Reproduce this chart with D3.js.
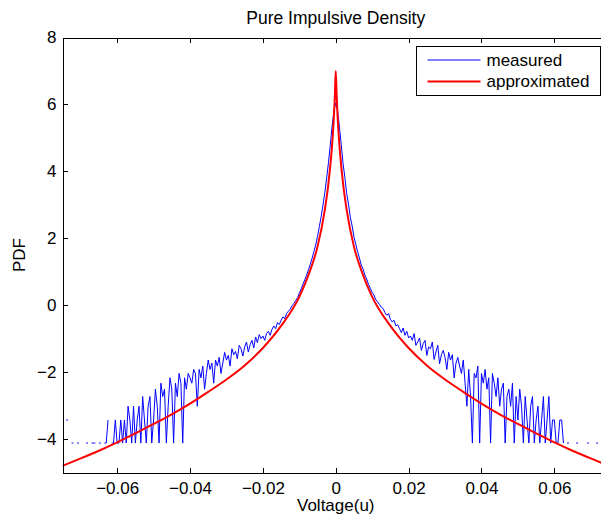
<!DOCTYPE html>
<html>
<head>
<meta charset="utf-8">
<script src="https://cdn.jsdelivr.net/npm/d3@7"></script>
<style>
	body { margin: 0; background: #fff; }
	svg { display: block; font-family: "Liberation Sans", Arial, Helvetica, sans-serif; }
	.axis text { font-size: 17px; fill: #000; font-family: "Liberation Sans", Arial, sans-serif; }
	.axis path, .axis line { stroke: #000; shape-rendering: crispEdges; }
</style>
</head>
<body>
<svg id="chart"></svg>
<script>
const width = 601;
const height = 525;

// histogram bins of the measured voltage (log pdf, null = empty bin)
const binStart = -0.075;
const binWidth = 0.0005;
const measuredPdf = [
	-3.43, null, -3.43, -3.43, null, -4.12, -4.12, null, -4.12, -4.12,
	null, -4.12, null, -4.12, -4.12, null, -4.12, -4.12, -4.12, null,
	-4.12, -4.12, null, -4.12, -4.12, -3.43, null, -4.12, -4.12, -3.43,
	-4.12, -4.12, -3.43, -4.12, -3.43, -4.12, -3.02, -3.43, -4.12, -3.02,
	-4.12, -3.43, -3.02, -4.12, -2.73, -3.43, -4.12, -3.02, -2.73, -4.12,
	-3.43, -2.51, -3.02, -4.12, -2.33, -2.73, -2.51, -4.12, -3.02, -2.17,
	-2.51, -4.12, -2.33, -2.73, -2.04, -2.33, -4.12, -2.17, -2.51, -2.04,
	-2.17, -2.33, -1.92, -2.04, -3.02, -1.92, -2.17, -1.82, -2.51, -2.04,
	-1.64, -1.92, -1.73, -2.33, -1.64, -1.82, -1.56, -2.04, -1.73, -1.41,
	-1.64, -1.5, -1.82, -1.3, -1.48, -1.38, -1.6, -1.2, -1.3, -1.52,
	-1.25, -1.1, -1.4, -1.18, -1.05, -1.28, -0.95, -1.12, -0.88, -1.0,
	-0.92, -1.05, -0.85, -0.78, -0.9, -0.72, -0.62, -0.7, -0.52, -0.58,
	-0.45, -0.35, -0.4, -0.25, -0.18, -0.12, -0.02, 0.05, 0.14, 0.22,
	0.36, 0.48, 0.63, 0.76, 0.9, 1.06, 1.22, 1.4, 1.6, 1.8,
	2.06, 2.35, 2.65, 2.99, 3.36, 3.8, 4.26, 4.79, 5.35, 5.8,
	6.05,
	5.82, 5.33, 4.81, 4.24, 3.82, 3.34, 3.02, 2.63, 2.37, 2.04,
	1.82, 1.6, 1.41, 1.2, 1.08, 0.9, 0.78, 0.62, 0.5, 0.38,
	0.3, 0.16, 0.1, 0.02, -0.06, -0.1, -0.22, -0.3, -0.25, -0.42,
	-0.5, -0.45, -0.62, -0.58, -0.7, -0.82, -0.68, -0.9, -0.78, -0.98,
	-0.92, -1.05, -0.85, -1.2, -1.1, -0.98, -1.35, -1.15, -1.05, -1.5,
	-1.25, -1.3, -1.1, -1.62, -1.4, -1.2, -1.75, -1.48, -1.35, -1.56,
	-1.92, -1.41, -1.64, -1.48, -2.17, -1.73, -1.56, -1.82, -2.04, -1.64,
	-2.33, -3.02, -1.92, -2.73, -4.12, -2.04, -2.17, -1.82, -4.12, -2.04,
	-2.33, -1.92, -2.51, -2.17, -4.12, -2.04, -2.33, -2.73, -2.17, -3.02,
	-2.51, -2.33, -4.12, -2.73, -2.51, -3.02, -2.33, -4.12, -2.73, -3.43,
	-2.51, -3.02, -4.12, -2.73, -3.43, -4.12, -3.02, -2.73, -4.12, -3.43,
	-3.02, -4.12, -3.43, -2.73, -4.12, -3.43, -2.73, -4.12, -3.43, -3.43,
	-4.12, -4.12, -3.43, -3.43, -4.12, null, -4.12, -4.12, null, -4.12,
	null, -4.12, -4.12, null, -4.12, null, null, -4.12, -4.12, null,
	-4.12, null, -4.12, -4.12, null, null, -4.12, -4.12, null, -4.12
];

// approximated density
const approxVoltage = [-0.075, -0.07, -0.065, -0.06, -0.055, -0.05, -0.045, -0.04, -0.035, -0.03,
	-0.025, -0.02, -0.015, -0.01, -0.0075, -0.005, -0.003, -0.002, -0.001, -0.0005, -0.00025,
	0,
	0.00025, 0.0005, 0.001, 0.002, 0.003, 0.005, 0.0075, 0.01, 0.015, 0.02,
	0.025, 0.03, 0.035, 0.04, 0.045, 0.05, 0.055, 0.06, 0.065, 0.07, 0.075];
const approxPdf = [-4.8, -4.58, -4.35, -4.1, -3.83, -3.55, -3.26, -2.94, -2.59, -2.22,
	-1.8, -1.28, -0.62, 0.25, 0.9, 1.75, 2.85, 3.65, 4.8, 5.65, 6.25,
	7.0,
	6.25, 5.65, 4.8, 3.65, 2.85, 1.75, 0.9, 0.25, -0.62, -1.28,
	-1.8, -2.22, -2.59, -2.94, -3.26, -3.55, -3.83, -4.1, -4.35, -4.58, -4.8];

const xTicks = [-0.06, -0.04, -0.02, 0, 0.02, 0.04, 0.06];
const xTickLabels = ["\u22120.06", "\u22120.04", "\u22120.02", "0", "0.02", "0.04", "0.06"];
const yTicks = [-4, -2, 0, 2, 4, 6, 8];
const yTickLabels = ["\u22124", "\u22122", "0", "2", "4", "6", "8"];
const seriesNames = ["measured", "approximated"];
const seriesColors = ["#0000ff", "#ff0000"];

const plot = { left: 62.5, right: 609, top: 37.5, bottom: 472.5 };

const x = d3.scaleLinear().domain([-0.075, 0.075]).range([plot.left, plot.right]);
const y = d3.scaleLinear().domain([-5, 8]).range([plot.bottom, plot.top]);

const svg = d3.select("#chart")
	.attr("width", width)
	.attr("height", height)
	.attr("viewBox", `0 0 ${width} ${height}`);

svg.append("rect").attr("width", width).attr("height", height).attr("fill", "#fff");

svg.append("clipPath")
	.attr("id", "plot-clip")
	.append("rect")
	.attr("x", plot.left)
	.attr("y", plot.top)
	.attr("width", plot.right - plot.left)
	.attr("height", plot.bottom - plot.top);

const measured = measuredPdf.map((v, i) => ({ x: binStart + i * binWidth, y: v }));
const approx = approxVoltage.map((v, i) => ({ x: v, y: approxPdf[i] }));

const dataGroup = svg.append("g").attr("clip-path", "url(#plot-clip)");

dataGroup.append("path")
	.datum(measured)
	.attr("fill", "none")
	.attr("stroke", seriesColors[0])
	.attr("stroke-width", 1)
	.attr("d", d3.line()
		.defined((d) => d.y !== null)
		.x((d) => x(d.x))
		.y((d) => y(d.y)));

dataGroup.append("path")
	.datum(approx)
	.attr("fill", "none")
	.attr("stroke", seriesColors[1])
	.attr("stroke-width", 2)
	.attr("stroke-linejoin", "round")
	.attr("d", d3.line()
		.curve(d3.curveMonotoneX)
		.x((d) => x(d.x))
		.y((d) => y(d.y)));

// axes, MATLAB style with inward ticks
svg.append("g")
	.attr("class", "axis")
	.attr("transform", `translate(0,${plot.bottom})`)
	.call(d3.axisBottom(x)
		.tickValues(xTicks)
		.tickFormat((d, i) => xTickLabels[i])
		.tickSizeInner(-5)
		.tickSizeOuter(0)
		.tickPadding(9));

svg.append("g")
	.attr("class", "axis")
	.attr("transform", `translate(0,${plot.top})`)
	.call(d3.axisTop(x)
		.tickValues(xTicks)
		.tickFormat("")
		.tickSizeInner(-5)
		.tickSizeOuter(0));

svg.append("g")
	.attr("class", "axis")
	.attr("transform", `translate(${plot.left},0)`)
	.call(d3.axisLeft(y)
		.tickValues(yTicks)
		.tickFormat((d, i) => yTickLabels[i])
		.tickSizeInner(-5)
		.tickSizeOuter(0)
		.tickPadding(6));

// titles
svg.append("text")
	.attr("x", (plot.left + plot.right) / 2)
	.attr("y", 24)
	.attr("text-anchor", "middle")
	.attr("font-size", 17.5)
	.text("Pure Impulsive Density");

svg.append("text")
	.attr("x", (plot.left + plot.right) / 2)
	.attr("y", 511)
	.attr("text-anchor", "middle")
	.attr("font-size", 17)
	.text("Voltage(u)");

svg.append("text")
	.attr("transform", `translate(25,${(plot.top + plot.bottom) / 2}) rotate(-90)`)
	.attr("text-anchor", "middle")
	.attr("font-size", 17)
	.text("PDF");

// legend
const legend = svg.append("g").attr("transform", "translate(416.5,46.5)");

legend.append("rect")
	.attr("width", 184)
	.attr("height", 49)
	.attr("fill", "#fff")
	.attr("stroke", "#000")
	.attr("stroke-width", 1);

const legendItem = legend.selectAll("g.item")
	.data(seriesNames)
	.enter()
	.append("g")
	.attr("class", "item")
	.attr("transform", (d, i) => `translate(0,${13.5 + i * 21.5})`);

legendItem.append("line")
	.attr("x1", 11)
	.attr("x2", 64)
	.attr("stroke", (d, i) => seriesColors[i])
	.attr("stroke-width", (d, i) => i === 0 ? 1 : 2);

legendItem.append("text")
	.attr("x", 70)
	.attr("dy", "0.35em")
	.attr("font-size", 17)
	.text((d) => d);
</script>
</body>
</html>
